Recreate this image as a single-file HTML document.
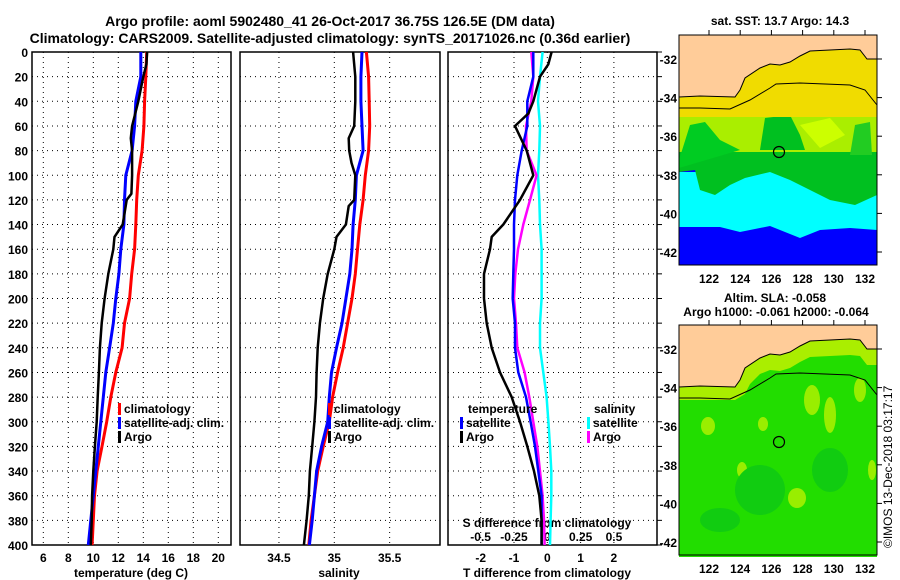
<!DOCTYPE html>
<html><head><meta charset="utf-8"><style>
body{margin:0;background:#fff;width:900px;height:580px;overflow:hidden}
svg{display:block;font-family:"Liberation Sans",sans-serif;font-weight:bold}
</style></head><body>
<svg id="c" width="900" height="580" xmlns="http://www.w3.org/2000/svg">
<text x="330" y="26" font-size="14" text-anchor="middle">Argo profile: aoml 5902480_41 26-Oct-2017 36.75S 126.5E (DM data)</text>
<text x="330" y="43" font-size="14" text-anchor="middle">Climatology: CARS2009. Satellite-adjusted climatology: synTS_20171026.nc (0.36d earlier)</text>
<g id="maps"></g>
<g id="plots"></g>
<text transform="translate(892,548) rotate(-90)" font-size="12" font-weight="normal">©IMOS 13-Dec-2018 03:17:17</text>
</svg>
<script>
const depths=[0,20,40,60,80,100,120,140,160,180,200,220,240,260,280,300,320,340,360,380,400];
const tempClim=[14.27,14.2,14.1,14.05,13.9,13.6,13.47,13.4,13.3,13.07,12.9,12.5,12.3,11.8,11.4,11.07,10.7,10.3,10.1,10.0,9.9];
const tempSat=[13.8,13.8,13.4,13.3,13.1,12.6,12.5,12.45,12.2,12.05,11.8,11.6,11.3,11.0,10.8,10.6,10.4,10.2,10.0,9.8,9.6];
const argoDepths=[0,10,20,40,60,70,80,100,115,120,140,150,160,180,200,220,240,260,280,300,320,340,360,380,400];
const tempArgo=[14.3,14.25,14.0,13.6,13.1,13.0,13.1,13.1,13.05,12.67,12.35,11.7,11.6,11.2,10.9,10.67,10.53,10.45,10.35,10.27,10.13,10.0,9.9,9.87,9.8];
const salClim=[35.29,35.31,35.315,35.32,35.31,35.28,35.26,35.23,35.21,35.19,35.16,35.12,35.08,35.03,34.985,34.955,34.9,34.85,34.82,34.79,34.77];
const salSat=[35.25,35.24,35.24,35.25,35.26,35.2,35.19,35.17,35.16,35.14,35.105,35.07,35.02,34.975,34.955,34.94,34.885,34.84,34.82,34.8,34.775];
const salArgoDepths=[0,20,40,60,70,80,90,100,120,125,140,150,160,180,200,220,240,260,280,300,320,340,360,380,400];
const salArgo=[35.17,35.19,35.19,35.18,35.13,35.135,35.155,35.19,35.18,35.13,35.105,35.02,35.0,34.94,34.9,34.87,34.85,34.84,34.835,34.82,34.8,34.78,34.77,34.75,34.725];
const dTSat=[-0.42,-0.42,-0.6,-0.6,-0.77,-0.9,-0.97,-1.0,-1.0,-1.02,-1.04,-0.97,-0.97,-0.87,-0.64,-0.5,-0.37,-0.27,-0.17,-0.17,-0.17];
const dTArgoDepths=[0,10,20,40,50,60,80,100,120,140,150,160,180,200,220,240,260,280,300,320,340,360,380,400];
const dTArgo=[0.13,0.03,-0.22,-0.42,-0.57,-0.97,-0.62,-0.42,-0.82,-1.32,-1.67,-1.72,-1.9,-1.9,-1.82,-1.67,-1.42,-1.07,-0.82,-0.6,-0.4,-0.24,-0.17,-0.17];
const dSSat=[-0.035,-0.055,-0.07,-0.055,-0.06,-0.07,-0.06,-0.055,-0.043,-0.043,-0.043,-0.055,-0.055,-0.03,-0.005,0.008,0.02,0.03,0.03,0.025,0.02];
const dSArgo=[-0.12,-0.105,-0.12,-0.16,-0.155,-0.08,-0.13,-0.18,-0.22,-0.24,-0.25,-0.235,-0.225,-0.17,-0.135,-0.105,-0.075,-0.055,-0.035,-0.025,-0.02];
const depthTicks=[0,20,40,60,80,100,120,140,160,180,200,220,240,260,280,300,320,340,360,380,400];
const tempTicks=[6,8,10,12,14,16,18,20];
const salTicks=[34.5,35,35.5];
const dTTicks=[-2,-1,0,1,2];
const dSTicks=[-0.5,-0.25,0,0.25,0.5];
const lonTicks=[122,124,126,128,130,132];
const latTicks=[-32,-34,-36,-38,-40,-42];

const NS='http://www.w3.org/2000/svg';
const P=document.getElementById('plots');
function el(t,a,p){const e=document.createElementNS(NS,t);for(const k in a)e.setAttribute(k,a[k]);(p||P).appendChild(e);return e;}
const Y0=52,Y1=545;
const yD=d=>Y0+d/400*(Y1-Y0);
const xT=t=>43.3+(t-6)*12.5;
const xS=s=>334.3+(s-35)*110.7;
const xDT=v=>547.3+v*33.3;
const xDS=v=>547.3+v*133.3;
const panels=[[32,231],[240,440],[448,657]];

panels.forEach((p,i)=>{
  const g=el('g',{});
  
  
  depthTicks.forEach(d=>{
    const l=el('line',{x1:p[0],x2:p[1],y1:yD(d),y2:yD(d),stroke:'#000','stroke-width':1,'stroke-dasharray':'1,4'},g);
    
    
    if(i==2){const tk=el('line',{x1:p[1],x2:p[1]+5,y1:yD(d),y2:yD(d),stroke:'#000'},g);
      
      }
  });
  const xs=i==0?tempTicks.map(xT):i==1?salTicks.map(xS):dTTicks.map(xDT);
  xs.forEach(x=>{const l=el('line',{x1:x,x2:x,y1:Y0,y2:Y1,stroke:'#000','stroke-dasharray':'1,4'},g);
    
    });
  const r=el('rect',{x:p[0],y:Y0,width:p[1]-p[0],height:Y1-Y0,fill:'none',stroke:'#000','stroke-width':1.5},g);
  
  
});
depthTicks.forEach(d=>{const t=el('text',{x:28,y:yD(d)+5,'font-size':12,'text-anchor':'end'});t.textContent=d;
  
  });
function xl(vals,f,y,fmt,name){vals.forEach(v=>{const t=el('text',{x:f(v),y:y,'font-size':12,'text-anchor':'middle'});t.textContent=fmt?fmt(v):v;
  
  });}
xl(tempTicks,xT,562,null,'temperature-tick-label');
xl(salTicks,xS,562,null,'salinity-tick-label');
xl(dTTicks,xDT,562,null,'t-diff-tick-label');
xl(dSTicks,xDS,541,null,'s-diff-tick-label');
function txt(x,y,s,name,anchor,size){const t=el('text',{x:x,y:y,'font-size':size||12,'text-anchor':anchor||'start'});t.textContent=s;
  
  return t;}
txt(131,577,'temperature (deg C)','temperature-axis-title','middle');
txt(339,577,'salinity','salinity-axis-title','middle');
txt(547,577,'T difference from climatology','t-diff-axis-title','middle');
txt(547,527,'S difference from climatology','s-diff-axis-title','middle');

function line(ds,vs,f,col,w,name){
  const pts=ds.map((d,i)=>f(vs[i]).toFixed(1)+','+yD(d).toFixed(1)).join(' ');
  const l=el('polyline',{points:pts,fill:'none',stroke:col,'stroke-width':w,'stroke-linejoin':'round'});
  
  
}
line(depths,tempClim,xT,'#f00',3,'temperature-climatology-line');
line(depths,tempSat,xT,'#00f',3,'temperature-satellite-line');
line(argoDepths,tempArgo,xT,'#000',2.5,'temperature-argo-line');
line(depths,salClim,xS,'#f00',3,'salinity-climatology-line');
line(depths,salSat,xS,'#00f',3,'salinity-satellite-line');
line(salArgoDepths,salArgo,xS,'#000',2.5,'salinity-argo-line');
line(depths,dSSat,xDS,'#0ff',2.5,'s-diff-satellite-line');
line(depths,dSArgo,xDS,'#f0f',2.5,'s-diff-argo-line');
line(depths,dTSat,xDT,'#00f',2.5,'t-diff-satellite-line');
line(dTArgoDepths,dTArgo,xDT,'#000',2.5,'t-diff-argo-line');

function leg(x,y,col,s,name){const r=el('rect',{x:x,y:y-10,width:3,height:12,fill:col});
  
  
  txt(x+6,y,s,name);}
leg(118,413,'#f00','climatology','legend-climatology');
leg(118,427,'#00f','satellite-adj. clim.','legend-satellite-adj');
leg(118,441,'#000','Argo','legend-argo');
leg(328,413,'#f00','climatology','legend2-climatology');
leg(328,427,'#00f','satellite-adj. clim.','legend2-satellite-adj');
leg(328,441,'#000','Argo','legend2-argo');
txt(468,413,'temperature','legend-temperature-heading');
leg(460,427,'#00f','satellite','legend-t-satellite');
leg(460,441,'#000','Argo','legend-t-argo');
txt(594,413,'salinity','legend-salinity-heading');
leg(587,427,'#0ff','satellite','legend-s-satellite');
leg(587,441,'#f0f','Argo','legend-s-argo');

// maps
const M=document.getElementById('maps');
function mel(t,a,p){const e=document.createElementNS(NS,t);for(const k in a)e.setAttribute(k,a[k]);(p||M).appendChild(e);return e;}
const coast='679,35 877,35 877,59 867,59 860,50 850,49 810,51 800,56 790,62 780,65 770,64 760,68 745,78 740,90 735,97 700,96 679,97';
const coastLine='679,97 700,96 735,97 740,90 745,78 760,68 770,64 780,65 790,62 800,56 810,51 850,49 860,50 867,59 877,59';
const coastBand='877,75 867,75 860,66 850,65 810,67 800,72 790,78 780,81 770,80 760,84 750,94 745,104 735,110 700,110 679,110';
const cont2='679,108 700,108 730,109 750,100 770,88 776,84 800,83 850,85 865,90 877,105';
function map(dy,sst,name){
  const g=mel('g',{transform:'translate(0,'+dy+')'});
  
  
  if(sst){
    mel('rect',{x:679,y:35,width:198,height:230,fill:'#0000ff'},g);
    mel('polygon',{points:'679,172 877,172 877,230 850,228 820,230 800,238 770,226 740,232 720,227 679,227',fill:'#00ffff'},g);
    mel('polygon',{points:'679,140 877,140 877,195 855,205 830,200 810,190 790,180 770,172 745,178 730,185 715,195 700,190 695,170 679,172',fill:'#00c020'},g);
    mel('rect',{x:679,y:112,width:198,height:40,fill:'#aaee00'},g);
    mel('polygon',{points:'679,160 690,125 705,122 720,140 740,150 679,168',fill:'#00cc22'},g);
    mel('polygon',{points:'760,150 765,118 790,115 800,135 805,150',fill:'#00c020'},g);
    mel('polygon',{points:'850,155 855,125 870,122 872,155',fill:'#22cc22'},g);
    mel('polygon',{points:'800,125 830,118 845,135 820,148',fill:'#ccff00'},g);
    mel('rect',{x:679,y:35,width:198,height:82,fill:'#f0dc00'},g);
  } else {
    mel('rect',{x:679,y:35,width:198,height:232,fill:'#22dd00'},g);
    mel('polygon',{points:coastLine+' '+coastBand,fill:'#aaee00'},g);
    [[708,136,7,9],[763,134,5,7],[812,110,8,15],[797,208,9,10],[742,180,5,8],[872,180,4,10],[830,125,6,18],[860,100,6,12]].forEach(b=>mel('ellipse',{cx:b[0],cy:b[1],rx:b[2],ry:b[3],fill:'#99ee00'},g));
    [[760,200,25,25],[830,180,18,22],[720,230,20,12]].forEach(b=>mel('ellipse',{cx:b[0],cy:b[1],rx:b[2],ry:b[3],fill:'#11cc11'},g));
  }
  mel('polygon',{points:coast,fill:'#ffcc99'},g);
  mel('polyline',{points:coastLine,fill:'none',stroke:'#000','stroke-width':1},g);
  mel('polyline',{points:cont2,fill:'none',stroke:'#000','stroke-width':1},g);
  const c=mel('circle',{cx:779,cy:152,r:5.5,fill:'none',stroke:'#000','stroke-width':1.2},g);
  
  
  mel('rect',{x:679,y:35,width:198,height:230,fill:'none',stroke:'#000','stroke-width':1},g);
  lonTicks.forEach(v=>{const x=709+(v-122)*15.6;
    mel('line',{x1:x,x2:x,y1:30,y2:35,stroke:'#000'},g);
    const t=mel('text',{x:x,y:283,'font-size':12,'text-anchor':'middle'},g);t.textContent=v;
    
    });
  latTicks.forEach(v=>{const y=59+(-32-v)*19.3;
    mel('line',{x1:877,x2:882,y1:y,y2:y,stroke:'#000'},g);
    const t=mel('text',{x:677,y:y+5,'font-size':12,'text-anchor':'end'},g);t.textContent=v;
    
    });
}
map(0,true,'sst-map');
map(290,false,'sla-map');
function mt(x,y,s,name){const t=mel('text',{x:x,y:y,'font-size':12,'text-anchor':'middle'});t.textContent=s;
  
  }
mt(780,25,'sat. SST: 13.7 Argo: 14.3','sst-map-title');
mt(775,302,'Altim. SLA: -0.058','sla-map-title');
mt(776,316,'Argo h1000: -0.061 h2000: -0.064','sla-map-subtitle');
</script>
</body></html>
